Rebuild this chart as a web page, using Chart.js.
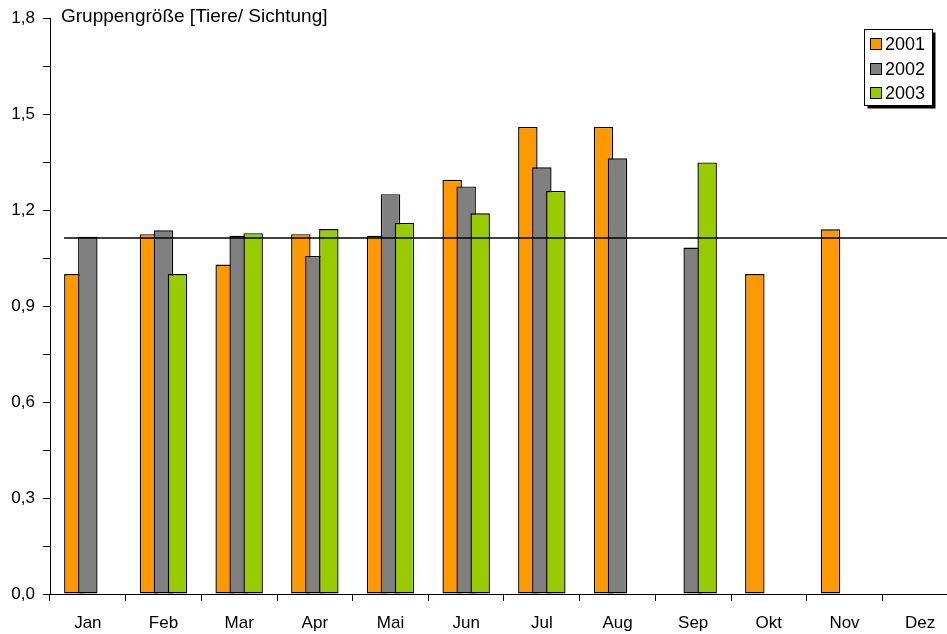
<!DOCTYPE html>
<html>
<head>
<meta charset="utf-8">
<script src="https://cdn.jsdelivr.net/npm/chart.js@4/dist/chart.umd.min.js"></script>
<style>
  html, body { margin: 0; padding: 0; background: #fff; overflow: hidden; }
  #wrap { position: absolute; left: 0; top: 0; width: 960px; height: 634px; }
</style>
</head>
<body>
<div id="wrap"><canvas id="chart"></canvas></div>
<script>
// Daten
const months = ['Jan', 'Feb', 'Mar', 'Apr', 'Mai', 'Jun', 'Jul', 'Aug', 'Sep', 'Okt', 'Nov', 'Dez'];
const years = ['2001', '2002', '2003'];
const values2001 = [1.00, 1.125, 1.03, 1.125, 1.12, 1.295, 1.46, 1.46, null, 1.00, 1.14, null];
const values2002 = [1.117, 1.137, 1.12, 1.057, 1.25, 1.274, 1.334, 1.362, 1.083, null, null, null];
const values2003 = [null, 1.00, 1.128, 1.141, 1.16, 1.19, 1.26, null, 1.349, null, null, null];
const meanValue = 1.113;
const yTicks = [0, 0.3, 0.6, 0.9, 1.2, 1.5, 1.8];
const axisTitle = 'Gruppengröße [Tiere/ Sichtung]';

const colors = ['#FF9900', '#808080', '#99CC00'];
const font = 'Liberation Sans, Arial, sans-serif';

// Balken in Reihenfolge der Datensätze zeichnen (spätere Reihe liegt oben), danach Mittelwertlinie
const drawOrder = {
    id: 'drawOrder',
    beforeDatasetsDraw(chart) {
        const ctx = chart.ctx;
        chart.data.datasets.forEach((ds, i) => {
            chart.getDatasetMeta(i).controller.draw();
        });
        const y = chart.scales.y.getPixelForValue(meanValue);
        const first = chart.getDatasetMeta(0).data[0];
        const x0 = first.x - first.width / 2;
        ctx.save();
        ctx.strokeStyle = '#000';
        ctx.lineWidth = 1.5;
        ctx.beginPath();
        ctx.moveTo(x0, Math.round(y));
        ctx.lineTo(chart.chartArea.right, Math.round(y));
        ctx.stroke();
        ctx.restore();
        return false;
    }
};

// Achsentitel und Legende mit Schatten
const extras = {
    id: 'extras',
    afterDraw(chart) {
        const ctx = chart.ctx;
        ctx.save();
        ctx.fillStyle = '#000';
        ctx.font = '19px ' + font;
        ctx.textBaseline = 'middle';
        ctx.textAlign = 'left';
        ctx.fillText(axisTitle, 61, 17);

        // Legende
        const lx = 864.5, ly = 29.5, lw = 68, lh = 76;
        ctx.fillStyle = '#000';
        ctx.fillRect(lx + 3, ly + 3, lw, lh);
        ctx.fillStyle = '#fff';
        ctx.fillRect(lx, ly, lw, lh);
        ctx.strokeStyle = '#000';
        ctx.lineWidth = 1;
        ctx.strokeRect(lx, ly, lw, lh);
        years.forEach((yr, i) => {
            const cy = 44 + i * 24.7;
            ctx.fillStyle = colors[i];
            ctx.fillRect(870.5, Math.round(cy - 6) + 0.5, 11, 11);
            ctx.strokeStyle = '#000';
            ctx.strokeRect(870.5, Math.round(cy - 6) + 0.5, 11, 11);
            ctx.fillStyle = '#000';
            ctx.font = '18px ' + font;
            ctx.fillText(yr, 885, cy + 1);
        });
        ctx.restore();
    }
};

const datasets = [values2001, values2002, values2003].map((vals, i) => ({
    label: years[i],
    data: vals,
    backgroundColor: colors[i],
    borderColor: '#000',
    borderWidth: 1.4,
    borderSkipped: false,
    inflateAmount: 0,
    categoryPercentage: 0.555,
    barPercentage: 1.39
}));

new Chart(document.getElementById('chart'), {
    type: 'bar',
    data: { labels: months, datasets: datasets },
    plugins: [drawOrder, extras],
    options: {
        responsive: true,
        maintainAspectRatio: false,
        animation: false,
        layout: { padding: { left: 0, right: 2, top: 13, bottom: 0 } },
        plugins: {
            legend: { display: false },
            tooltip: { enabled: false }
        },
        scales: {
            x: {
                offset: true,
                grid: {
                    offset: true,
                    drawOnChartArea: false,
                    drawTicks: true,
                    tickLength: 7,
                    color: '#000'
                },
                border: { display: true, color: '#000', width: 1 },
                ticks: {
                    color: '#000',
                    font: { family: font, size: 17 },
                    padding: 12,
                    maxRotation: 0,
                    autoSkip: false
                },
                afterFit(scale) { scale.height = 40; }
            },
            y: {
                min: 0,
                max: 1.8,
                grid: {
                    drawOnChartArea: false,
                    drawTicks: true,
                    tickLength: 7,
                    color: '#000'
                },
                border: { display: true, color: '#000', width: 1 },
                ticks: {
                    stepSize: 0.15,
                    color: '#000',
                    font: { family: font, size: 17 },
                    padding: 8,
                    callback(v) {
                        const hit = yTicks.find(t => Math.abs(t - v) < 1e-6);
                        return hit === undefined ? '' : hit.toFixed(1).replace('.', ',');
                    }
                },
                afterFit(scale) { scale.width = 50; }
            }
        }
    }
});
</script>
</body>
</html>
